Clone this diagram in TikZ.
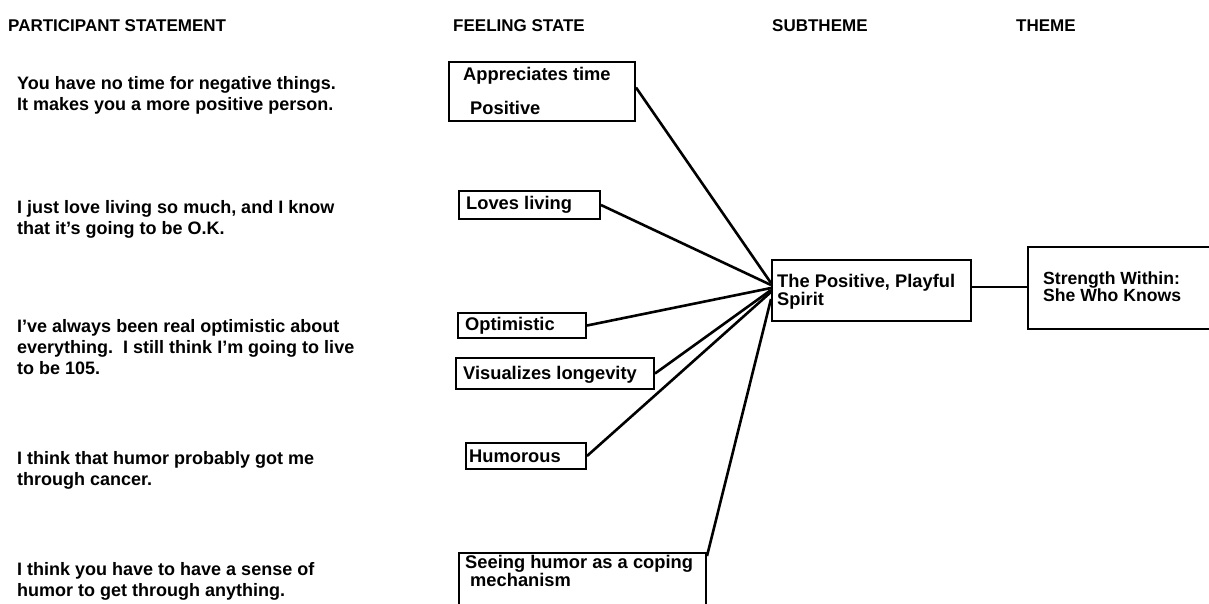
\documentclass[tikz,border=0pt]{standalone}
\usepackage{fontspec}
\setmainfont{Liberation Sans}
\usetikzlibrary{calc}
\begin{document}
\begin{tikzpicture}[x=1pt,y=-1pt,
  every node/.style={font=\bfseries\fontsize{18.3}{18}\selectfont},
  head/.style={anchor=base west,inner sep=0pt,font=\bfseries\fontsize{17}{20}\selectfont},
  stmt/.style={anchor=base west,inner sep=0pt,align=left,font=\bfseries\fontsize{18}{21}\selectfont},
  fbox/.style={draw,line width=2pt,anchor=north west,inner sep=0pt},
  ftext/.style={anchor=base west,inner sep=0pt,align=left},
  link/.style={line width=2.6pt}]
\clip (0,0) rectangle (1209,603);
\fill[white] (0,0) rectangle (1209,603);

% column headings
\node[head] (h1) at (8,31) {PARTICIPANT STATEMENT};
\node[head] (h2) at (453,31) {FEELING STATE};
\node[head] (h3) at (772,31) {SUBTHEME};
\node[head] (h4) at (1016,31) {THEME};

% participant statements (each placed at the baseline of its last line)
\node[stmt] (s1) at (17,110) {You have no time for negative things.\\It makes you a more positive person.};
\node[stmt] (s2) at (17,234) {I just love living so much, and I know\\that it's going to be O.K.};
\node[stmt] (s3) at (17,374) {I've always been real optimistic about\\everything.\ \ I still think I'm going to live\\to be 105.};
\node[stmt] (s4) at (17,485) {I think that humor probably got me\\through cancer.};
\node[stmt] (s5) at (17,596) {I think you have to have a sense of\\humor to get through anything.};

% feeling states
\node[fbox,minimum width=186pt,minimum height=59pt] (appr) at (448,61) {};
\node[ftext] (apprA) at (463,80) {Appreciates time};
\node[ftext] (apprB) at (470,114) {Positive};

\node[fbox,minimum width=141pt,minimum height=28pt] (loves) at (458,190) {};
\node[ftext] (lovesT) at (466,209) {Loves living};

\node[fbox,minimum width=128pt,minimum height=25pt] (opt) at (457,312) {};
\node[ftext] (optT) at (465,330) {Optimistic};

\node[fbox,minimum width=198pt,minimum height=31pt] (vis) at (455,357) {};
\node[ftext] (visT) at (463,379) {Visualizes longevity};

\node[fbox,minimum width=120pt,minimum height=26pt] (hum) at (465,442) {};
\node[ftext] (humT) at (469,462) {Humorous};

\node[fbox,minimum width=247pt,minimum height=60pt] (see) at (458,552) {};
\node[ftext] (seeT) at (465,586) {Seeing humor as a coping\\\hspace*{5pt}mechanism};

% subtheme and theme
\node[fbox,minimum width=199pt,minimum height=61pt] (sub) at (771,259) {};
\node[ftext] (subT) at (777,305) {The Positive, Playful\\Spirit};

\node[fbox,minimum width=182pt,minimum height=82pt] (theme) at (1027,246) {};
\node[ftext,font=\bfseries\fontsize{17.6}{17}\selectfont] (themeT) at (1043,301) {Strength Within:\\She Who Knows};

% meeting points on the subtheme box
\coordinate (m1) at (771,283);
\coordinate (m2) at (771,285);
\coordinate (m3) at (771,288);
\coordinate (m4) at (771,290);
\coordinate (m5) at (771,292);
\coordinate (m6) at (771,299);
\coordinate (sr) at (970,287);

\draw[link] (appr.east) ++(0,-4) -- (m1);
\draw[link] (loves.east) -- (m2);
\draw[link] (opt.east) -- (m3);
\draw[link] (vis.east) -- (m4);
\draw[link] (hum.east) -- (m5);
\draw[link] (see.north east) ++(0,4) -- (m6);
\draw[line width=1.6pt] (sr) -- (sr -| theme.west);
\end{tikzpicture}
\end{document}
